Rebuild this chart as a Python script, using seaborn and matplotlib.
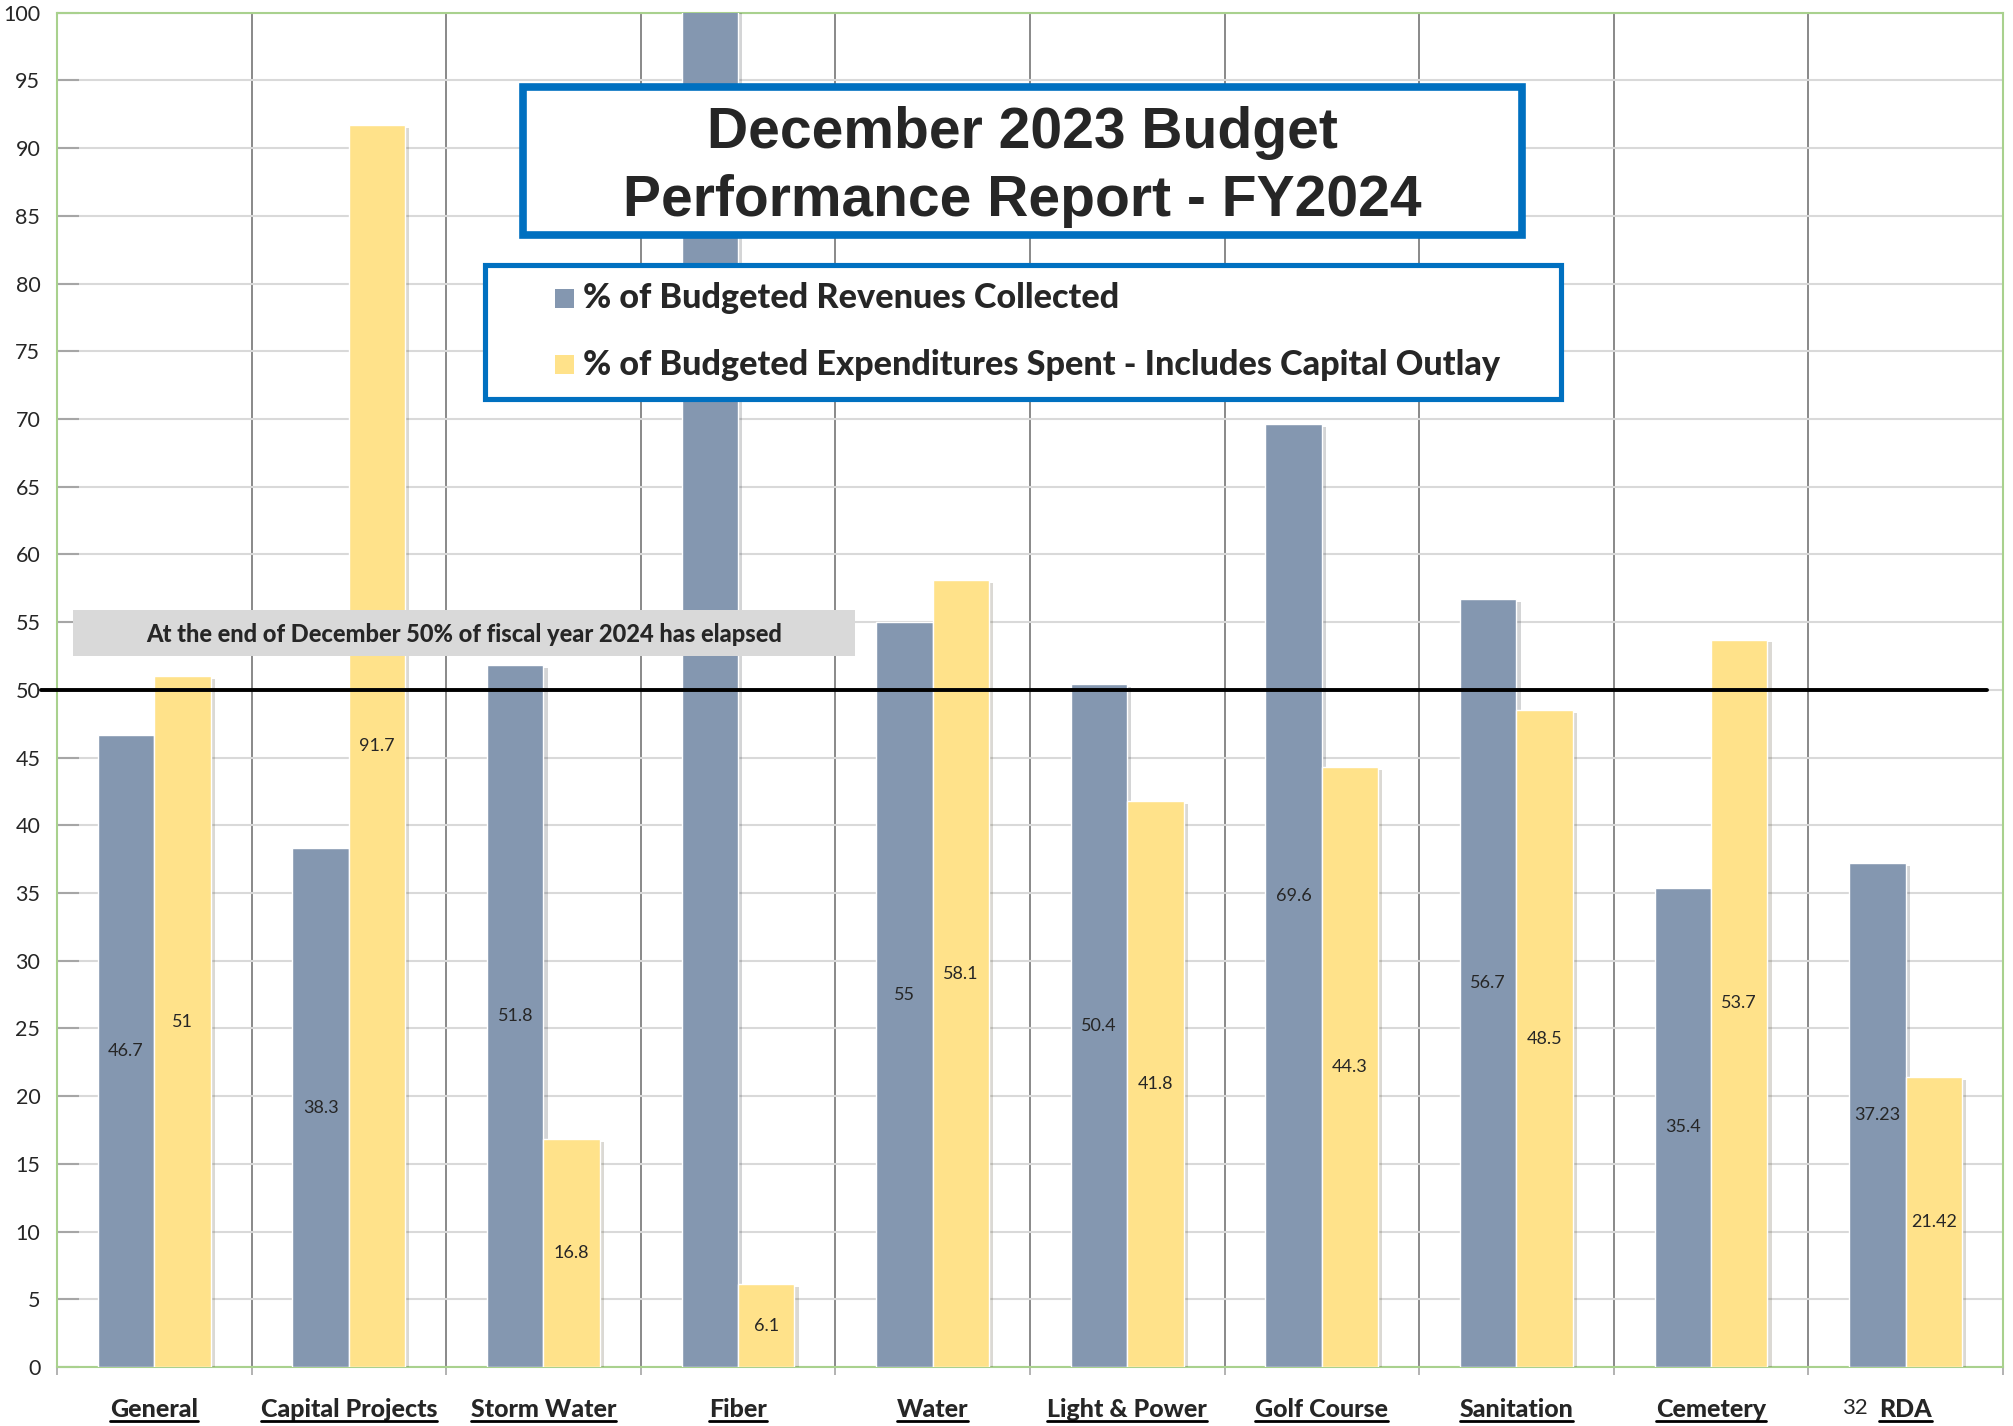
import numpy as np
import pandas as pd
import matplotlib
matplotlib.use('Agg')
import matplotlib.pyplot as plt
import matplotlib.patheffects as pe
from matplotlib.patches import Rectangle
from matplotlib.lines import Line2D
from matplotlib.transforms import IdentityTransform
import seaborn as sns

funds = ['General', 'Capital Projects', 'Storm Water', 'Fiber', 'Water',
         'Light & Power', 'Golf Course', 'Sanitation', 'Cemetery', 'RDA']
revenues = [46.7, 38.3, 51.8, 155, 55, 50.4, 69.6, 56.7, 35.4, 37.23]
expenditures = [51, 91.7, 16.8, 6.1, 58.1, 41.8, 44.3, 48.5, 53.7, 21.42]
series = ['% of Budgeted Revenues Collected',
          '% of Budgeted Expenditures Spent - Includes Capital Outlay']
colors = ['#8497B0', '#FFE28A']

df = pd.DataFrame({'fund': funds * 2,
                   'pct': revenues + expenditures,
                   'series': [series[0]] * len(funds) + [series[1]] * len(funds)})

sns.set_style('white')
plt.rcParams['font.family'] = ['Lato', 'DejaVu Sans']

fig = plt.figure(figsize=(20.13, 14.26), dpi=100)
ax = fig.add_axes([0.0283, 0.0414, 0.9667, 0.9497])

shadow = [pe.SimplePatchShadow(offset=(3, -2), alpha=0.2), pe.Normal()]
sns.barplot(data=df, x='fund', y='pct', hue='series', palette=colors,
            width=0.58, gap=0, saturation=1, legend=False, ax=ax,
            zorder=3, path_effects=shadow)

ax.set_xlim(-0.5, 9.5)
ax.set_ylim(0, 100)
ax.set_xlabel('')
ax.set_ylabel('')

# grid
ax.set_yticks(np.arange(0, 101, 5))
ax.set_xticks(np.arange(-0.5, 10, 1), minor=True)
ax.yaxis.grid(True, color='#D9D9D9', lw=1.5)
ax.xaxis.grid(True, which='minor', color='#808080', lw=1.3)
ax.xaxis.grid(False, which='major')
ax.set_axisbelow(True)
for s in ax.spines.values():
    s.set_color('#A9D18E')
    s.set_linewidth(1.5)

ax.tick_params(axis='y', direction='in', length=16, width=1.5, color='#A6A6A6',
               labelsize=15.5, pad=12, left=True)
ax.tick_params(axis='x', which='major', length=0, pad=22)
ax.tick_params(axis='x', which='minor', direction='out', length=6, width=1.2,
               color='#A6A6A6', bottom=True)
for lab in ax.get_xticklabels():
    lab.set_fontweight(900)
    lab.set_fontsize(18)

# value labels in the middle of bars (the Fiber revenue label sits behind the legend box)
for cont, vals in zip(ax.containers, [revenues, expenditures]):
    ax.bar_label(cont, labels=[f'{v:g}' if v <= 100 else '' for v in vals],
                 label_type='center', fontsize=13, zorder=4)

# 50% reference line
ax.plot([-0.58, 9.42], [50, 50], color='black', lw=2.8, zorder=4, clip_on=False)

# elapsed note
ax.add_patch(Rectangle((-0.42, 52.5), 4.02, 3.4, facecolor='#D9D9D9',
                       edgecolor='none', zorder=5))
ax.text(1.59, 54.1, 'At the end of December 50% of fiscal year 2024 has elapsed',
        ha='center', va='center', fontsize=17, fontweight=900, zorder=6)

# title box
ax.add_patch(Rectangle((1.895, 83.6), 5.135, 10.9, facecolor='white',
                       edgecolor='#0070C0', lw=5.5, zorder=6))
ax.text(4.46, 88.6, 'December 2023 Budget\nPerformance Report - FY2024',
        ha='center', va='center', fontsize=41, fontweight='bold',
        family=['Liberation Sans', 'DejaVu Sans'], linespacing=1.32, zorder=7)

# legend box
ax.add_patch(Rectangle((1.70, 71.5), 5.53, 9.9, facecolor='white',
                       edgecolor='#0070C0', lw=3.7, zorder=6))
for yc, col, name in zip([78.9, 74.0], colors, series):
    ax.add_patch(Rectangle((2.06, yc - 0.71), 0.099, 1.42, facecolor=col,
                           edgecolor='none', zorder=7))
    ax.text(2.205, yc, name, ha='left', va='center', fontsize=24.6,
            fontweight=900, zorder=7)

# stray label next to RDA
ax.text(8.74, -0.030, '32', transform=ax.get_xaxis_transform(), ha='center',
        va='center', fontsize=16)

# underline the category labels
fig.canvas.draw()
for lab in ax.get_xticklabels():
    bb = lab.get_window_extent()
    fig.add_artist(Line2D([bb.x0, bb.x1], [bb.y0, bb.y0], color='black',
                          lw=2, transform=IdentityTransform()))

fig.savefig('out.png', dpi=100)
